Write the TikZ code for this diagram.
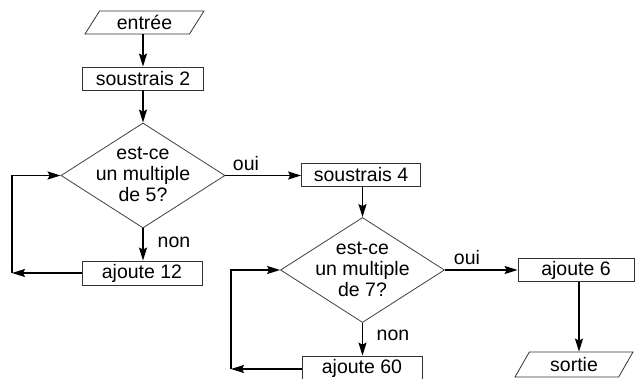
\documentclass[tikz,border=0pt]{standalone}
\usepackage{fontspec}
\setmainfont{Liberation Sans}
\usetikzlibrary{shapes.geometric,arrows.meta}
\begin{document}
\begin{tikzpicture}[x=1pt,y=-1pt,
  every node/.style={font=\fontsize{19.5}{21}\selectfont, inner sep=0pt},
  box/.style={draw=black!80, line width=0.8pt, minimum height=23pt},
  io/.style={trapezium, trapezium left angle=45, trapezium right angle=135,
    trapezium stretches body, draw=black!80, line width=0.8pt},
  decision/.style={diamond, draw=black!75, line width=0.8pt,
    minimum width=164pt, minimum height=105pt},
  flow/.style={line width=1.5pt, -{Stealth[length=13pt,width=8pt,inset=2pt]}},
  tag/.style={anchor=center}]
  \clip (0,0) rectangle (637,379);

  % first column
  \node[io, minimum width=119pt, minimum height=23pt] (in) at (144.5,22.5) {entrée};
  \node[box, minimum width=121pt] (s2) at (143,78.5) {soustrais 2};
  \node[decision] (d1) at (143,175.5) {};
  \node[align=center] (d1t) at (143,174) {est-ce\\un multiple\\de 5?};
  \node[box, minimum width=120pt, minimum height=24pt] (a12) at (142,273) {ajoute 12};
  \coordinate (c1) at (12,273);

  % second column
  \node[box, minimum width=119pt] (s4) at (361,174.5) {soustrais 4};
  \node[decision] (d2) at (362.5,270) {};
  \node[align=center] (d2t) at (362.5,269) {est-ce\\un multiple\\de 7?};
  \node[box, minimum width=120pt, minimum height=24pt] (a60) at (362,368) {ajoute 60};
  \coordinate (c2) at (231,369);

  % third column
  \node[box, minimum width=116pt] (a6) at (576,270) {ajoute 6};
  \node[io, minimum width=118pt, minimum height=25pt] (out) at (574,364.5) {sortie};

  % branch labels
  \node[tag] (o1) at (246,163.5) {oui};
  \node[tag] (n1) at (174,242) {non};
  \node[tag] (o2) at (467,258) {oui};
  \node[tag] (n2) at (393,335) {non};

  % connectors
  \draw[flow] (in.south -| s2.north) -- (s2.north);
  \draw[flow] (s2.south -| d1.north) -- (d1.north);
  \draw[flow] (d1.east) -- (d1.east -| s4.west);
  \draw[flow] (d1.south) -- (d1.south |- a12.north);
  \draw[flow] (a12.west) -- (c1);
  \draw[flow] (c1) |- (d1.west);
  \draw[flow] (s4.south -| d2.north) -- (d2.north);
  \draw[flow] (d2.east) -- (d2.east -| a6.west);
  \draw[flow] (d2.south) -- (d2.south |- a60.north);
  \draw[flow] (a60.west |- c2) -- (c2);
  \draw[flow] (c2) |- (d2.west);
  \draw[flow] ([xshift=3pt]a6.south) -- ([xshift=3pt]a6.south |- out.north);
\end{tikzpicture}
\end{document}
